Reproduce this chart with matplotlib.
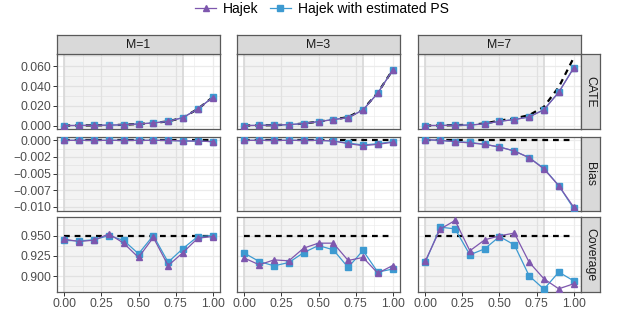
import numpy as np
import matplotlib.pyplot as plt
from matplotlib.lines import Line2D

plt.rcParams['font.family'] = ['Liberation Sans', 'DejaVu Sans']

# data
x = [0.0, 0.1, 0.2, 0.3, 0.4, 0.5, 0.6, 0.7, 0.8, 0.9, 1.0]
m_labels = ['M=1', 'M=3', 'M=7']
row_labels = ['CATE', 'Bias', 'Coverage']

# CATE
cate_truth_m1 = [0.0000, 0.0001, 0.0002, 0.0004, 0.0008, 0.0016, 0.0026, 0.0042, 0.0080, 0.0168, 0.0286]
cate_truth_m3 = [0.0000, 0.0002, 0.0004, 0.0009, 0.0020, 0.0040, 0.0061, 0.0085, 0.0163, 0.0332, 0.0562]
cate_truth_m7 = [0.0000, 0.0001, 0.0004, 0.0008, 0.0021, 0.0050, 0.0072, 0.0105, 0.0190, 0.0390, 0.0685]
cate_hajek_m1 = [0.0000, 0.0001, 0.0002, 0.0004, 0.0008, 0.0016, 0.0026, 0.0042, 0.0080, 0.0167, 0.0284]
cate_hajek_m3 = [0.0000, 0.0002, 0.0004, 0.0009, 0.0020, 0.0040, 0.0060, 0.0080, 0.0157, 0.0328, 0.0560]
cate_hajek_m7 = [0.0000, 0.0001, 0.0003, 0.0005, 0.0017, 0.0043, 0.0060, 0.0087, 0.0160, 0.0337, 0.0580]
cate_est_m1 = [0.0000, 0.0001, 0.0002, 0.0004, 0.0008, 0.0016, 0.0027, 0.0043, 0.0081, 0.0168, 0.0285]
cate_est_m3 = [0.0000, 0.0002, 0.0004, 0.0009, 0.0020, 0.0041, 0.0061, 0.0081, 0.0158, 0.0330, 0.0562]
cate_est_m7 = [0.0000, 0.0001, 0.0003, 0.0005, 0.0017, 0.0043, 0.0061, 0.0088, 0.0161, 0.0339, 0.0584]

# Bias
bias_hajek_m1 = [0.0000, 0.0000, 0.0000, 0.0000, 0.0000, 0.0000, 0.0000, 0.0000, -0.0001, -0.0001, -0.0002]
bias_hajek_m3 = [0.0000, 0.0000, 0.0000, 0.0000, 0.0000, 0.0000, -0.0001, -0.0005, -0.0008, -0.0006, -0.0003]
bias_hajek_m7 = [0.0001, 0.0000, -0.0002, -0.0004, -0.0006, -0.0010, -0.0016, -0.0026, -0.0043, -0.0068, -0.0100]
bias_est_m1 = [0.0000, 0.0000, 0.0000, 0.0000, 0.0000, 0.0000, 0.0000, 0.0000, -0.0001, -0.0001, -0.0002]
bias_est_m3 = [0.0000, 0.0000, 0.0000, 0.0000, 0.0000, 0.0000, -0.0001, -0.0004, -0.0007, -0.0005, -0.0002]
bias_est_m7 = [0.0001, 0.0000, -0.0002, -0.0003, -0.0006, -0.0010, -0.0016, -0.0026, -0.0042, -0.0068, -0.0102]

# Coverage
cov_hajek_m1 = [0.9455, 0.9426, 0.9443, 0.9520, 0.9406, 0.9230, 0.9476, 0.9130, 0.9290, 0.9467, 0.9488]
cov_hajek_m3 = [0.9222, 0.9140, 0.9200, 0.9189, 0.9345, 0.9406, 0.9406, 0.9193, 0.9230, 0.9037, 0.9130]
cov_hajek_m7 = [0.9189, 0.9579, 0.9685, 0.9312, 0.9447, 0.9496, 0.9530, 0.9172, 0.8967, 0.8844, 0.8906]
cov_est_m1 = [0.9439, 0.9435, 0.9447, 0.9500, 0.9440, 0.9275, 0.9500, 0.9172, 0.9340, 0.9488, 0.9500]
cov_est_m3 = [0.9283, 0.9180, 0.9127, 0.9168, 0.9290, 0.9377, 0.9324, 0.9107, 0.9316, 0.9050, 0.9087]
cov_est_m7 = [0.9172, 0.9603, 0.9582, 0.9263, 0.9336, 0.9488, 0.9385, 0.9004, 0.8840, 0.9050, 0.8943]
nominal = 0.95

truth = [
    [cate_truth_m1, cate_truth_m3, cate_truth_m7],
    [[0.0] * 11] * 3,
    [[nominal] * 11] * 3,
]
hajek = [
    [cate_hajek_m1, cate_hajek_m3, cate_hajek_m7],
    [bias_hajek_m1, bias_hajek_m3, bias_hajek_m7],
    [cov_hajek_m1, cov_hajek_m3, cov_hajek_m7],
]
est = [
    [cate_est_m1, cate_est_m3, cate_est_m7],
    [bias_est_m1, bias_est_m3, bias_est_m7],
    [cov_est_m1, cov_est_m3, cov_est_m7],
]

ylims = [(-0.0035, 0.0725), (-0.0106, 0.0005), (0.8805, 0.9728)]
yticks = [[0.0, 0.02, 0.04, 0.06],
          [0.0, -0.0025, -0.005, -0.0075, -0.01],
          [0.90, 0.925, 0.95]]
yticklabels = [['0.000', '0.020', '0.040', '0.060'],
               ['0.000', '\u22120.002', '\u22120.005', '\u22120.007', '\u22120.010'],
               ['0.900', '0.925', '0.950']]
yminor = [[0.01, 0.03, 0.05, 0.07],
          [-0.00125, -0.00375, -0.00625, -0.00875],
          [0.8875, 0.9125, 0.9375, 0.9625]]

purple = '#7E57AE'
blue = '#3D9AD1'
W, H = 622, 314
col_x = [57, 237, 418]
col_w = 163
row_y = [(54, 129), (137, 211), (217, 292)]

fig = plt.figure(figsize=(6.22, 3.14), dpi=100)

def frac(x0, y0, x1, y1):
    return [x0 / W, 1 - y1 / H, (x1 - x0) / W, (y1 - y0) / H]

for r in range(3):
    for c in range(3):
        ax = fig.add_axes(frac(col_x[c], row_y[r][0], col_x[c] + col_w, row_y[r][1]))
        ax.set_xlim(-0.05, 1.05)
        ax.set_ylim(*ylims[r])
        ax.set_xticks([0, 0.25, 0.5, 0.75, 1.0])
        ax.set_xticks([0.125, 0.375, 0.625, 0.875], minor=True)
        ax.set_yticks(yticks[r])
        ax.set_yticks(yminor[r], minor=True)
        ax.grid(which='major', color='#EBEBEB', lw=0.9, zorder=0)
        ax.grid(which='minor', color='#EBEBEB', lw=0.45, zorder=0)
        ax.set_axisbelow(True)
        ax.axvspan(0, 0.8, color='#808080', alpha=0.09, lw=0, zorder=1)
        ax.axvline(0, color='#DADADA', lw=1.3, zorder=1)
        ax.axvline(0.8, color='#DADADA', lw=1.3, zorder=1)

        ax.plot(x, truth[r][c], color='black', lw=1.6, ls=(0, (2.6, 2.2)), zorder=3)
        ax.plot(x, est[r][c], color=blue, lw=0.9, marker='s', ms=4.2, zorder=4)
        ax.plot(x, hajek[r][c], color=purple, lw=0.9, marker='^', ms=4.8, zorder=5)

        for s in ax.spines.values():
            s.set_color('#595959')
            s.set_linewidth(0.9)
        ax.tick_params(which='minor', length=0)
        ax.tick_params(which='major', length=2.8, width=0.7, color='#333333',
                       labelsize=8.8, labelcolor='#4D4D4D', pad=1.5)
        if c == 0:
            ax.set_yticklabels(yticklabels[r])
        else:
            ax.tick_params(axis='y', which='major', length=0, labelleft=False)
        if r == 2:
            ax.set_xticklabels(['0.00', '0.25', '0.50', '0.75', '1.00'])
        else:
            ax.tick_params(axis='x', which='major', length=0, labelbottom=False)

# top strips
for c in range(3):
    sa = fig.add_axes(frac(col_x[c], 35, col_x[c] + col_w, 54))
    sa.set_facecolor('#D9D9D9')
    sa.set_xticks([])
    sa.set_yticks([])
    for s in sa.spines.values():
        s.set_color('#595959')
        s.set_linewidth(0.9)
    sa.text(0.5, 0.5, m_labels[c], ha='center', va='center', fontsize=8.8,
            color='#1A1A1A', transform=sa.transAxes)

# right strips
for r in range(3):
    sa = fig.add_axes(frac(581, row_y[r][0], 600, row_y[r][1]))
    sa.set_facecolor('#D9D9D9')
    sa.set_xticks([])
    sa.set_yticks([])
    for s in sa.spines.values():
        s.set_color('#595959')
        s.set_linewidth(0.9)
    sa.text(0.5, 0.5, row_labels[r], ha='center', va='center', fontsize=8.8,
            color='#1A1A1A', rotation=-90, transform=sa.transAxes)

handles = [
    Line2D([], [], color=purple, lw=0.9, marker='^', ms=4.8),
    Line2D([], [], color=blue, lw=0.9, marker='s', ms=4.2),
]
fig.legend(handles, ['Hajek', 'Hajek with estimated PS'], loc='center',
           bbox_to_anchor=(322 / W, 1 - 9 / H), ncol=2, frameon=False,
           fontsize=10, handlelength=1.5, handletextpad=0.5, columnspacing=0.8)

fig.savefig('out.png', dpi=100)
